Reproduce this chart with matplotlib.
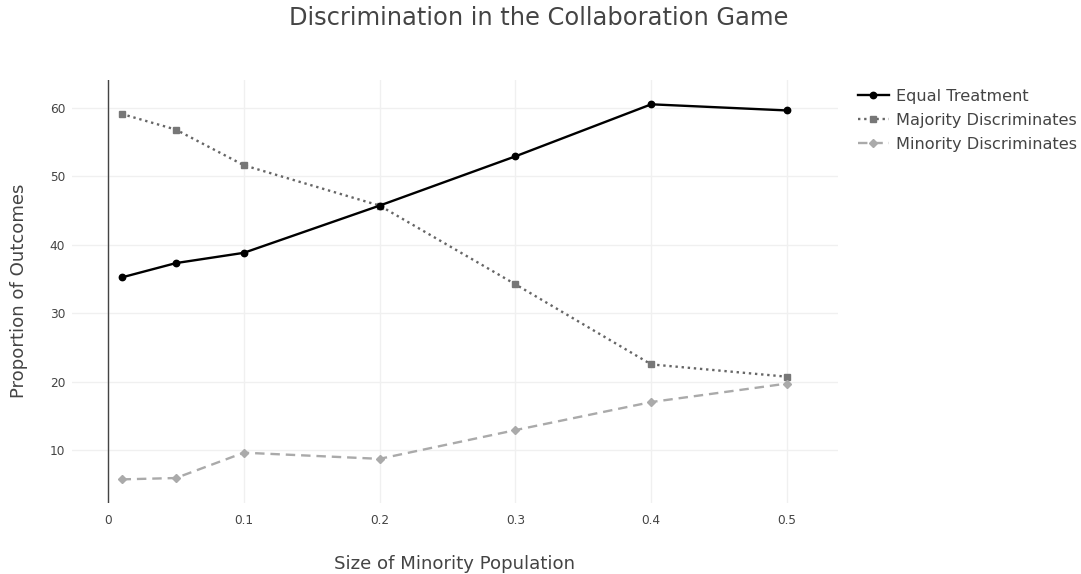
import matplotlib
matplotlib.use("Agg")
import matplotlib.pyplot as plt

plt.rcParams['font.family'] = ['DejaVu Sans']

x_vals = [0.01, 0.05, 0.1, 0.2, 0.3, 0.4, 0.5]
equal_treatment = [35.2, 37.3, 38.8, 45.7, 52.9, 60.5, 59.6]
majority_discr = [59.1, 56.8, 51.6, 45.7, 34.2, 22.5, 20.7]
minority_discr = [5.7, 5.9, 9.6, 8.7, 12.9, 17.0, 19.7]

series_names = ["Equal Treatment", "Majority Discriminates", "Minority Discriminates"]
x_ticks = [0, 0.1, 0.2, 0.3, 0.4, 0.5]
x_ticklabels = ["0", "0.1", "0.2", "0.3", "0.4", "0.5"]
y_ticks = [10, 20, 30, 40, 50, 60]

W, H = 1081, 574
fig = plt.figure(figsize=(W / 100, H / 100), dpi=100)
left, right, top, bottom = 72, 838, 80, 503
ax = fig.add_axes([left / W, 1 - bottom / H, (right - left) / W, (bottom - top) / H])

txt = '#444444'
ax.set_xlim(-0.0265, 0.5375)
ax.set_ylim(2.25, 64.05)

ax.set_xticks(x_ticks)
ax.set_xticklabels(x_ticklabels)
ax.set_yticks(y_ticks)
ax.set_axisbelow(True)
ax.grid(True, color='#f0f0f0', linewidth=1)
ax.axvline(0, color='#444444', linewidth=1, zorder=2)
for s in ax.spines.values():
    s.set_visible(False)
ax.tick_params(axis='both', length=0, labelsize=8.7, colors=txt)
ax.tick_params(axis='x', pad=8)
ax.tick_params(axis='y', pad=5)

l1, = ax.plot(x_vals, equal_treatment, color='black', lw=1.7, ls='-',
              marker='o', ms=4.6, zorder=4)
l2, = ax.plot(x_vals, majority_discr, color='#666666', lw=1.7, ls=(0, (1, 1.6)),
              marker='s', ms=4.6, mfc='#777777', mec='#777777', zorder=3)
l3, = ax.plot(x_vals, minority_discr, color='#aaaaaa', lw=1.7, ls=(0, (4, 2.5)),
              marker='D', ms=4.0, zorder=3)

fig.text(538.5 / W, 1 - 18 / H, "Discrimination in the Collaboration Game",
         ha='center', va='center', fontsize=17.4, color=txt)
fig.text(455 / W, 1 - 564 / H, "Size of Minority Population",
         ha='center', va='center', fontsize=13.1, color=txt)
fig.text(19 / W, 1 - 291 / H, "Proportion of Outcomes", rotation=90,
         ha='center', va='center', fontsize=13.1, color=txt)

leg = fig.legend([l1, l2, l3], series_names, loc='upper left',
                 bbox_to_anchor=(858 / W, 1 - 89 / H), frameon=False,
                 fontsize=11.6, labelcolor=txt, handlelength=1.9,
                 handletextpad=0.45, labelspacing=0.55, borderaxespad=0,
                 borderpad=0)

fig.savefig("out.png", dpi=100)
